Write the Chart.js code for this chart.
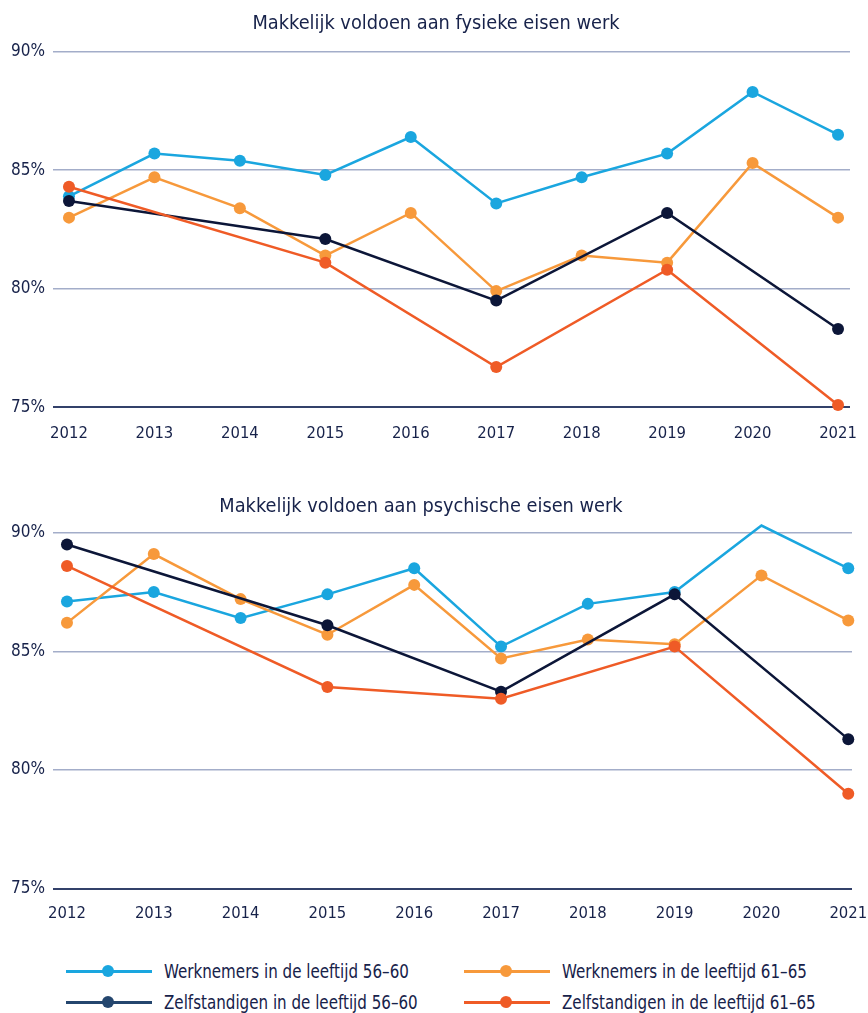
<!DOCTYPE html>
<html>
<head>
<meta charset="utf-8">
<script src="https://cdn.jsdelivr.net/npm/chart.js@4.4.1/dist/chart.umd.min.js"></script>
<style>
  body { margin: 0; background: #fff; width: 868px; height: 1013px; position: relative; overflow: hidden;
         font-family: 'DejaVu Sans Condensed', 'Liberation Sans', sans-serif; color: #17224a; }
  canvas { position: absolute; left: 0; }
  #c1 { top: 0; }
  #c2 { top: 481px; }
  .leg { position: absolute; height: 24px; font-size: 20px; line-height: 24px; white-space: nowrap; }
  .leg .ln { position: absolute; left: 0; top: 10.5px; width: 86px; height: 3px; }
  .leg .dot { position: absolute; left: 36px; top: 6px; width: 12px; height: 12px; border-radius: 50%; }
  .leg .tx { position: absolute; left: 98px; top: 0; transform: scaleX(0.84); transform-origin: left center; }
</style>
</head>
<body>
<canvas id="c1" width="868" height="450"></canvas>
<canvas id="c2" width="868" height="450"></canvas>

<div class="leg" style="left:66px; top:959px;"><div class="ln" style="background:#1aa6df"></div><div class="dot" style="background:#1aa6df"></div><div class="tx">Werknemers in de leeftijd 56–60</div></div>
<div class="leg" style="left:464px; top:959px;"><div class="ln" style="background:#f7993b"></div><div class="dot" style="background:#f7993b"></div><div class="tx">Werknemers in de leeftijd 61–65</div></div>
<div class="leg" style="left:66px; top:990px;"><div class="ln" style="background:#24466e"></div><div class="dot" style="background:#24466e"></div><div class="tx">Zelfstandigen in de leeftijd 56–60</div></div>
<div class="leg" style="left:464px; top:990px;"><div class="ln" style="background:#ef5b26"></div><div class="dot" style="background:#ef5b26"></div><div class="tx">Zelfstandigen in de leeftijd 61–65</div></div>

<script>
const years = [2012, 2013, 2014, 2015, 2016, 2017, 2018, 2019, 2020, 2021];
const seriesNames = [
  'Werknemers in de leeftijd 56–60',
  'Werknemers in de leeftijd 61–65',
  'Zelfstandigen in de leeftijd 56–60',
  'Zelfstandigen in de leeftijd 61–65'
];
const colors = ['#1aa6df', '#f7993b', '#0c1638', '#ef5b26'];

// fysieke eisen
const fysWerk5660 = [83.9, 85.7, 85.4, 84.8, 86.4, 83.6, 84.7, 85.7, 88.3, 86.5];
const fysWerk6165 = [83.0, 84.7, 83.4, 81.4, 83.2, 79.9, 81.4, 81.1, 85.3, 83.0];
const fysZelf5660 = [83.7, null, null, 82.1, null, 79.5, null, 83.2, null, 78.3];
const fysZelf6165 = [84.3, null, null, 81.1, null, 76.7, null, 80.8, null, 75.1];

// psychische eisen
const psyWerk5660 = [87.1, 87.5, 86.4, 87.4, 88.5, 85.2, 87.0, 87.5, 90.3, 88.5];
const psyWerk6165 = [86.2, 89.1, 87.2, 85.7, 87.8, 84.7, 85.5, 85.3, 88.2, 86.3];
const psyZelf5660 = [89.5, null, null, 86.1, null, 83.3, null, 87.4, null, 81.3];
const psyZelf6165 = [88.6, null, null, 83.5, null, 83.0, null, 85.2, null, 79.0];

const yTicks = [75, 80, 85, 90];

Chart.defaults.font.family = "'DejaVu Sans Condensed', 'Liberation Sans', sans-serif";
Chart.defaults.color = '#17224a';

function makeChart(id, title, series, opt) {
  const datasets = series.map((vals, i) => ({
    label: seriesNames[i],
    data: years.map((y, j) => ({ x: y, y: vals[j] })),
    borderColor: colors[i],
    backgroundColor: colors[i],
    borderWidth: 2.5,
    pointRadius: 6,
    pointHoverRadius: 6,
    pointBorderWidth: 0,
    spanGaps: true,
    clip: false,
    order: 4 - i
  }));
  return new Chart(document.getElementById(id), {
    type: 'line',
    data: { datasets },
    options: {
      responsive: false,
      animation: false,
      layout: { padding: { left: opt.padLeft, right: 0, top: 0, bottom: 0 } },
      plugins: {
        legend: { display: false },
        tooltip: { enabled: false },
        title: {
          display: true,
          text: title,
          color: '#17224a',
          font: { size: 19.8, weight: 'normal' },
          padding: { top: opt.titleTop, bottom: opt.titleBottom }
        }
      },
      scales: {
        x: {
          type: 'linear',
          min: opt.xMin,
          max: opt.xMax,
          afterBuildTicks: s => { s.ticks = years.map(v => ({ value: v })); },
          afterFit: s => { s.height = opt.xHeight; s.paddingLeft = 0; s.paddingRight = opt.padRight; },
          grid: { display: false, drawTicks: false },
          border: { display: false },
          ticks: { padding: opt.xPad, color: '#17224a', font: { size: 16.5 }, callback: v => String(v), maxRotation: 0, autoSkip: false }
        },
        y: {
          min: 75,
          max: 90,
          afterBuildTicks: s => { s.ticks = yTicks.map(v => ({ value: v })); },
          afterFit: s => { s.width = opt.yWidth; s.paddingTop = 0; s.paddingBottom = 0; },
          border: { display: false },
          grid: {
            drawTicks: false,
            lineWidth: c => c.tick && c.tick.value === 75 ? 2 : 1.5,
            color: c => c.tick && c.tick.value === 75 ? '#33416a' : '#a3adc9'
          },
          ticks: { padding: 8, color: '#17224a', font: { size: 17 }, callback: v => v + '%' }
        }
      }
    }
  });
}

makeChart('c1', 'Makkelijk voldoen aan fysieke eisen werk',
  [fysWerk5660, fysWerk6165, fysZelf5660, fysZelf6165],
  { xMin: 2011.813, xMax: 2021.14, xHeight: 42.7, xPad: 16.8, titleTop: 11.9, titleBottom: 16,
    padLeft: 4, yWidth: 49, padRight: 18 });

makeChart('c2', 'Makkelijk voldoen aan psychische eisen werk',
  [psyWerk5660, psyWerk6165, psyZelf5660, psyZelf6165],
  { xMin: 2011.839, xMax: 2021.043, xHeight: 42.3, xPad: 15.6, titleTop: 14.4, titleBottom: 13.5,
    padLeft: -26, yWidth: 79, padRight: 16 });
</script>
</body>
</html>
